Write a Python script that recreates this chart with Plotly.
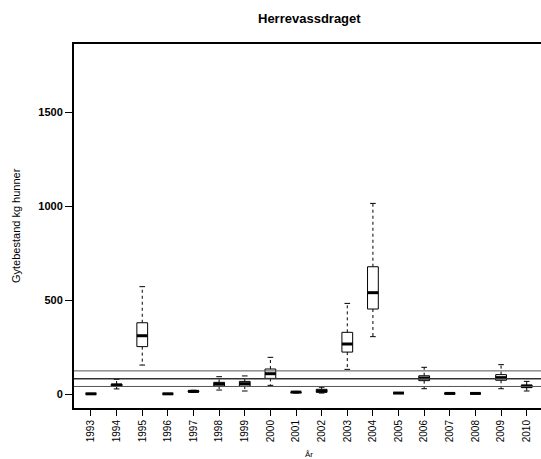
import plotly.graph_objects as go

years = [str(y) for y in range(1993, 2011)]
lower_whisker = [0, 27, 154, 0, 8, 21, 16, 46, 5, 5, 131, 305, 3, 28, 1, 1, 28, 16]
q1 = [1, 40, 252, 1, 11, 42, 42, 83, 8, 9, 223, 452, 4, 71, 2, 2, 73, 34]
median = [1, 47, 310, 1, 14, 53, 55, 108, 10, 16, 266, 539, 5, 85, 3, 3, 87, 41]
q3 = [2, 53, 379, 2, 17, 62, 67, 133, 12, 25, 328, 677, 6, 97, 4, 4, 103, 48]
upper_whisker = [3, 78, 571, 2, 20, 92, 96, 195, 14, 36, 482, 1014, 7, 142, 5, 5, 156, 67]
ref_lines = [40, 81, 123]
ref_widths = [1, 1.6, 1]
ref_colors = ["#555555", "#333333", "#555555"]

y_ticks = [0, 500, 1000, 1500]

hw = 0.21   # box half width (category units)
cw = 0.11   # whisker cap half width

bx, by, mx, my, wx, wy, cx, cy = [], [], [], [], [], [], [], []
for i in range(len(years)):
    bx += [i - hw, i + hw, i + hw, i - hw, i - hw, None]
    by += [q1[i], q1[i], q3[i], q3[i], q1[i], None]
    mx += [i - hw, i + hw, None]
    my += [median[i], median[i], None]
    wx += [i, i, None, i, i, None]
    wy += [q3[i], upper_whisker[i], None, q1[i], lower_whisker[i], None]
    cx += [i - cw, i + cw, None, i - cw, i + cw, None]
    cy += [upper_whisker[i], upper_whisker[i], None, lower_whisker[i], lower_whisker[i], None]

fig = go.Figure()
fig.add_trace(go.Scatter(x=wx, y=wy, mode="lines", line=dict(color="black", width=1, dash="3px,3px"),
                         hoverinfo="skip", showlegend=False))
fig.add_trace(go.Scatter(x=cx, y=cy, mode="lines", line=dict(color="black", width=1),
                         hoverinfo="skip", showlegend=False))
fig.add_trace(go.Scatter(x=bx, y=by, mode="lines", line=dict(color="black", width=1),
                         fill="toself", fillcolor="white", hoverinfo="skip", showlegend=False))
fig.add_trace(go.Scatter(x=mx, y=my, mode="lines", line=dict(color="black", width=3),
                         hoverinfo="skip", showlegend=False))

for v, w, c in zip(ref_lines, ref_widths, ref_colors):
    fig.add_hline(y=v, line=dict(color=c, width=w), layer="above")

L, T, B = 74, 44, 51
W = 541 - L
H = 459 - T - B

fig.update_layout(
    width=541, height=459,
    margin=dict(l=L, r=0, t=T, b=B),
    paper_bgcolor="white", plot_bgcolor="white",
    font=dict(family="Liberation Sans, Arial, sans-serif", color="black"),
    showlegend=False,
    annotations=[
        dict(text="<b>Herrevassdraget</b>", x=(309 - L) / W, y=(459 - B - 18) / H,
             xref="paper", yref="paper", showarrow=False, font=dict(size=13),
             xanchor="center", yanchor="middle"),
        dict(text="Gytebestand kg hunner", x=(16 - L) / W, y=(459 - B - 226) / H,
             xref="paper", yref="paper", showarrow=False, textangle=-90,
             font=dict(size=11), xanchor="center", yanchor="middle"),
        dict(text="År", x=(309 - L) / W, y=(459 - B - 454) / H,
             xref="paper", yref="paper", showarrow=False,
             font=dict(size=8), xanchor="center", yanchor="middle"),
    ],
)

fig.update_xaxes(
    range=[-0.663, 17.558], tickmode="array", tickvals=list(range(len(years))), ticktext=years,
    tickangle=-90, ticks="outside", ticklen=6, tickwidth=1, tickcolor="black",
    showline=True, linecolor="black", linewidth=2, mirror=True,
    showgrid=False, zeroline=False, tickfont=dict(size=10),
)
fig.update_yaxes(
    range=[-74.5, 1862], tickmode="array", tickvals=y_ticks, ticktext=[str(t) for t in y_ticks],
    ticks="outside", ticklen=7, tickwidth=1, tickcolor="black",
    showline=True, linecolor="black", linewidth=2, mirror=False,
    showgrid=False, zeroline=False, tickfont=dict(size=11, weight="bold"),
)

fig.write_html("out.html",
               config={"displayModeBar": False, "staticPlot": True},
               post_script="document.body.style.margin='0';document.body.style.overflow='hidden';")
